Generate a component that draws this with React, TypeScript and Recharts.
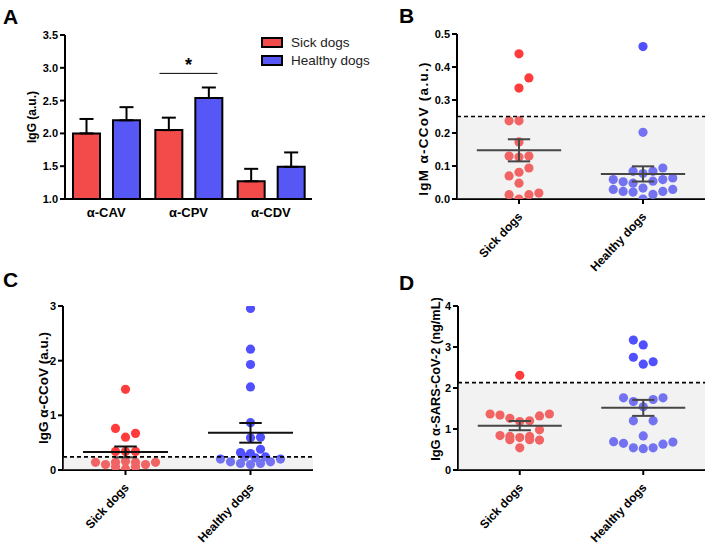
import React from 'react';
import {
  BarChart, Bar, XAxis, YAxis, ErrorBar, Legend, ReferenceLine,
  ScatterChart, Scatter, ReferenceArea,
} from 'recharts';

const FONT = '"Liberation Sans", Arial, sans-serif';
const RED_BAR = '#f34a4a';
const BLUE_BAR = '#5757f6';
const RED_DOT = '#ff3b3b';
const BLUE_DOT = '#5050ff';

// ---------- Panel A data ----------
const antigens = ['α-CAV', 'α-CPV', 'α-CDV'];
const sickIgG = [2.0, 2.05, 1.27];
const sickIgGErr = [0.22, 0.19, 0.19];
const healthyIgG = [2.2, 2.54, 1.49];
const healthyIgGErr = [0.2, 0.16, 0.22];
const aTicks = [1.0, 1.5, 2.0, 2.5, 3.0, 3.5];
const sigAntigen = 'α-CPV';
const sigLevel = 2.915;

// ---------- groups ----------
const groupNames = ['Sick dogs', 'Healthy dogs'];
const SLOT = 0.08; // horizontal jitter unit (beeswarm)

// ---------- Panel B: IgM α-CCoV ----------
const bSickVals = [0.44, 0.367, 0.336, 0.237, 0.237, 0.173, 0.13, 0.127, 0.13, 0.094, 0.081, 0.07, 0.048, 0.013, 0.013, 0.018, 0.0];
const bSickJit = [0, 1, 0, -1, 0, 0, -1, 0, 1, 1, 0, -1, 0, -1, 1, 2, 0];
const bHealthyVals = [0.462, 0.202, 0.094, 0.084, 0.077, 0.084, 0.059, 0.052, 0.048, 0.054, 0.059, 0.064, 0.029, 0.023, 0.021, 0.033, 0.014, 0.023, 0.029, 0.0];
const bHealthyJit = [0, 0, 2, -1, 0, 1, -3, -2, -1, 1, 2, 3, -3, -2, -1, 0, 1, 2, 3, 0];
const bMean = [0.148, 0.076];
const bLow = [0.114, 0.053];
const bHigh = [0.181, 0.099];
const bCutoff = 0.25;
const bTicks = [0, 0.1, 0.2, 0.3, 0.4, 0.5];

// ---------- Panel C: IgG α-CCoV ----------
const cSickVals = [1.475, 0.76, 0.67, 0.6, 0.34, 0.34, 0.34, 0.14, 0.1, 0.14, 0.16, 0.14, 0.1, 0.14, 0.06, 0.02, 0.06];
const cSickJit = [0, -1, 1, 0, -1, 0, 1, -3, -2, -1, 0, 1, 2, 3, -1, 0, 1];
const cHealthyVals = [2.955, 2.21, 1.93, 1.52, 0.865, 0.59, 0.6, 0.38, 0.32, 0.3, 0.24, 0.22, 0.24, 0.2, 0.2, 0.15, 0.12, 0.12, 0.15, 0.1];
const cHealthyJit = [0, 0, 0, 0, 0, 0, 1, 1, -1, 0, -0.6, 0.5, 1.5, -3, 3, -2, -1, 1, 2, 0];
const cMean = [0.33, 0.68];
const cLow = [0.23, 0.5];
const cHigh = [0.43, 0.86];
const cCutoff = 0.24;
const cTicks = [0, 1, 2, 3];

// ---------- Panel D: IgG α-SARS-CoV-2 ----------
const dSickVals = [2.31, 1.366, 1.34, 1.26, 1.18, 1.2, 1.32, 1.366, 0.98, 0.84, 0.82, 0.74, 0.79, 0.82, 0.74, 0.73, 0.54];
const dSickJit = [0, -3, -2, -1, 0, 1, 2, 3, 2, -2, -1, -1, 0, 1, 1, 2, 0];
const dHealthyVals = [3.17, 3.05, 2.75, 2.58, 2.64, 1.76, 1.67, 1.54, 1.72, 1.76, 1.2, 1.2, 0.83, 0.69, 0.65, 0.54, 0.52, 0.54, 0.63, 0.68];
const dHealthyJit = [-1, 0, -1, 0, 1, -2, -1, 0, 1, 2, -1, 1, 0, -3, -2, -1, 0, 1, 2, 3];
const dMean = [1.08, 1.52];
const dLow = [0.97, 1.32];
const dHigh = [1.195, 1.71];
const dCutoff = 2.13;
const dTicks = [0, 1, 2, 3, 4];

const barData = antigens.map((name, i) => ({
  name,
  sick: sickIgG[i],
  sickErr: [0, sickIgGErr[i]],
  healthy: healthyIgG[i],
  healthyErr: [0, healthyIgGErr[i]],
}));

const toPoints = (vals: number[], jit: number[], center: number) =>
  vals.map((v, i) => ({ x: center + jit[i] * SLOT, y: v }));

const tickStyle = { fontSize: 11, fontWeight: 700, fill: '#000', fontFamily: FONT };
const axisLine = { stroke: '#000', strokeWidth: 2 };

const yLabel = (text: string, dx: number, dy: number, size: number, spacing: number) => (props: any) => {
  const vb = props.viewBox || {};
  const x = vb.x + dx;
  const y = vb.y + vb.height / 2 + dy;
  return (
    <text x={x} y={y} transform={`rotate(-90 ${x} ${y})`} textAnchor="middle" dominantBaseline="central"
      fontSize={size} fontWeight={700} fill="#000" fontFamily={FONT} letterSpacing={spacing}>{text}</text>
  );
};

const RotTick = (props: any) => {
  const { x, y, payload } = props;
  const label = groupNames[Math.round(payload.value) - 1];
  return (
    <text transform={`translate(${x + 4},${y + 11}) rotate(-47)`} textAnchor="end"
      fontSize={12} fontWeight={700} fill="#000" fontFamily={FONT}>{label}</text>
  );
};

const Dot = (p: any) => <circle cx={p.cx} cy={p.cy} r={4.6} fill={p.fill} />;

// significance bracket: centred on the category, spanning most of its band
const SigBracket = (p: any) => {
  const half = 29;
  return <line x1={p.x1 - half} x2={p.x1 + half} y1={p.y1} y2={p.y1} stroke="#000" strokeWidth={1} />;
};

const renderLegend = (props: any) => {
  const items = [...(props.payload || [])].sort(
    (a: any, b: any) => groupNames.indexOf(a.value) - groupNames.indexOf(b.value));
  return (
    <div style={{ fontFamily: FONT, fontSize: 13.5, color: '#222' }}>
      {items.map((p: any) => (
        <div key={p.value} style={{ display: 'flex', alignItems: 'center', height: 18.3 }}>
          <span style={{ boxSizing: 'border-box', width: 22, height: 11, background: p.color, border: '2px solid #000', marginRight: 8, display: 'inline-block' }} />
          <span>{p.value}</span>
        </div>
      ))}
    </div>
  );
};

type DotPlotProps = {
  left: number; top: number; width: number; height: number;
  margin: { top: number; right: number; bottom: number; left: number };
  yWidth: number; xHeight: number;
  ticks: number[]; decimals: number;
  label: string; labelDx: number; labelDy: number; labelSize: number; labelSpacing: number;
  sickVals: number[]; sickJit: number[]; healthyVals: number[]; healthyJit: number[];
  mean: number[]; low: number[]; high: number[]; cutoff: number;
};

function DotPlot(p: DotPlotProps) {
  const sick = toPoints(p.sickVals, p.sickJit, 1);
  const healthy = toPoints(p.healthyVals, p.healthyJit, 2);
  const half = 0.34;
  const cap = 0.09;
  const lineColor = '#111';
  const stats = [0, 1].map((i) => ({ c: i + 1, m: p.mean[i], lo: p.low[i], hi: p.high[i] }));
  return (
    <div style={{ position: 'absolute', left: p.left, top: p.top }}>
      <ScatterChart width={p.width} height={p.height} margin={p.margin}>
        <XAxis type="number" dataKey="x" domain={[0.5, 2.5]} ticks={[1, 2]} allowDataOverflow
          tick={<RotTick />} axisLine={axisLine} tickLine={axisLine} tickSize={5} height={p.xHeight} interval={0} />
        <YAxis type="number" dataKey="y" domain={[p.ticks[0], p.ticks[p.ticks.length - 1]]} ticks={p.ticks}
          allowDataOverflow width={p.yWidth} tick={tickStyle} axisLine={axisLine} tickLine={axisLine} tickSize={5}
          tickFormatter={(v: number) => v.toFixed(p.decimals)} interval={0}
          label={{ content: yLabel(p.label, p.labelDx, p.labelDy, p.labelSize, p.labelSpacing) }} />
        <Scatter data={sick} fill={RED_DOT} shape={<Dot />} isAnimationActive={false} />
        <Scatter data={healthy} fill={BLUE_DOT} shape={<Dot />} isAnimationActive={false} />
        {stats.map((s) => (
          <ReferenceLine key={`m${s.c}`} segment={[{ x: s.c - half, y: s.m }, { x: s.c + half, y: s.m }]}
            stroke={lineColor} strokeWidth={2} zIndex={650} ifOverflow="visible" />
        ))}
        {stats.map((s) => (
          <ReferenceLine key={`v${s.c}`} segment={[{ x: s.c, y: s.lo }, { x: s.c, y: s.hi }]}
            stroke={lineColor} strokeWidth={2} zIndex={650} ifOverflow="visible" />
        ))}
        {stats.map((s) => (
          <ReferenceLine key={`h${s.c}`} segment={[{ x: s.c - cap, y: s.hi }, { x: s.c + cap, y: s.hi }]}
            stroke={lineColor} strokeWidth={2} zIndex={650} ifOverflow="visible" />
        ))}
        {stats.map((s) => (
          <ReferenceLine key={`l${s.c}`} segment={[{ x: s.c - cap, y: s.lo }, { x: s.c + cap, y: s.lo }]}
            stroke={lineColor} strokeWidth={2} zIndex={650} ifOverflow="visible" />
        ))}
        <ReferenceArea y1={0} y2={p.cutoff} fill="#cfcfcf" fillOpacity={0.28} stroke="none" zIndex={700} ifOverflow="visible" />
        <ReferenceLine y={p.cutoff} stroke="#000" strokeWidth={1.6} strokeDasharray="4 3" zIndex={750} />
      </ScatterChart>
    </div>
  );
}

const letterStyle = { fontFamily: FONT, fontWeight: 700, fontSize: 21, fill: '#000' } as const;

export default function App() {
  return (
    <div style={{ position: 'absolute', left: 0, top: 0, width: 708, height: 545, background: '#fff', fontFamily: FONT, overflow: 'hidden' }}>
      <svg width={708} height={545} style={{ position: 'absolute', left: 0, top: 0 }}>
        <text x={3} y={24} {...letterStyle}>A</text>
        <text x={399} y={23} {...letterStyle}>B</text>
        <text x={3} y={287} {...letterStyle}>C</text>
        <text x={399} y={290} {...letterStyle}>D</text>
      </svg>

      <div style={{ position: 'absolute', left: 0, top: 0 }}>
        <BarChart width={360} height={260} data={barData} margin={{ top: 35, right: 48, bottom: 0, left: 20 }}
          barSize={27} barGap={13}>
          <XAxis dataKey="name" axisLine={axisLine} tickLine={false} tickSize={4} tickMargin={5} height={61}
            tick={{ fontSize: 13, fontWeight: 700, fill: '#000', fontFamily: FONT }} interval={0} />
          <YAxis domain={[1, 3.5]} ticks={aTicks} allowDataOverflow width={45} tick={tickStyle}
            axisLine={axisLine} tickLine={axisLine} tickSize={5} interval={0}
            tickFormatter={(v: number) => v.toFixed(1)}
            label={{ content: yLabel('IgG (a.u.)', 12, 0, 12, 0) }} />
          <Legend layout="vertical" align="center" verticalAlign="middle" content={renderLegend}
            wrapperStyle={{ position: 'absolute', left: 261, top: 33, width: 130, height: 40, bottom: 'auto', right: 'auto' }} />
          <Bar dataKey="sick" name="Sick dogs" fill={RED_BAR} stroke="#000" strokeWidth={2} isAnimationActive={false}>
            <ErrorBar dataKey="sickErr" width={7} stroke="#000" strokeWidth={2} direction="y" />
          </Bar>
          <Bar dataKey="healthy" name="Healthy dogs" fill={BLUE_BAR} stroke="#000" strokeWidth={2} isAnimationActive={false}>
            <ErrorBar dataKey="healthyErr" width={7} stroke="#000" strokeWidth={2} direction="y" />
          </Bar>
          <ReferenceLine segment={[{ x: sigAntigen, y: sigLevel }, { x: sigAntigen, y: sigLevel }]}
            shape={<SigBracket />} ifOverflow="visible"
            label={{ value: '*', position: 'top', offset: 2, fontSize: 18, fontWeight: 700, fill: '#000', fontFamily: FONT }} />
        </BarChart>
      </div>

      <DotPlot left={360} top={0} width={348} height={292}
        margin={{ top: 34, right: 3, bottom: 0, left: 57 }} yWidth={40} xHeight={93}
        ticks={bTicks} decimals={1} label="IgM α-CCoV (a.u.)" labelDx={6} labelDy={12} labelSize={13.5} labelSpacing={1.3}
        sickVals={bSickVals} sickJit={bSickJit} healthyVals={bHealthyVals} healthyJit={bHealthyJit}
        mean={bMean} low={bLow} high={bHigh} cutoff={bCutoff} />

      <DotPlot left={0} top={260} width={360} height={285}
        margin={{ top: 46, right: 47, bottom: 0, left: 38 }} yWidth={25} xHeight={75}
        ticks={cTicks} decimals={0} label="IgG α-CCoV (a.u.)" labelDx={5} labelDy={0} labelSize={13.5} labelSpacing={0}
        sickVals={cSickVals} sickJit={cSickJit} healthyVals={cHealthyVals} healthyJit={cHealthyJit}
        mean={cMean} low={cLow} high={cHigh} cutoff={cCutoff} />

      <DotPlot left={360} top={260} width={348} height={285}
        margin={{ top: 46, right: 3, bottom: 0, left: 57 }} yWidth={41} xHeight={75}
        ticks={dTicks} decimals={0} label="IgG α-SARS-CoV-2 (ng/mL)" labelDx={18} labelDy={-9} labelSize={12.8} labelSpacing={0}
        sickVals={dSickVals} sickJit={dSickJit} healthyVals={dHealthyVals} healthyJit={dHealthyJit}
        mean={dMean} low={dLow} high={dHigh} cutoff={dCutoff} />
    </div>
  );
}
